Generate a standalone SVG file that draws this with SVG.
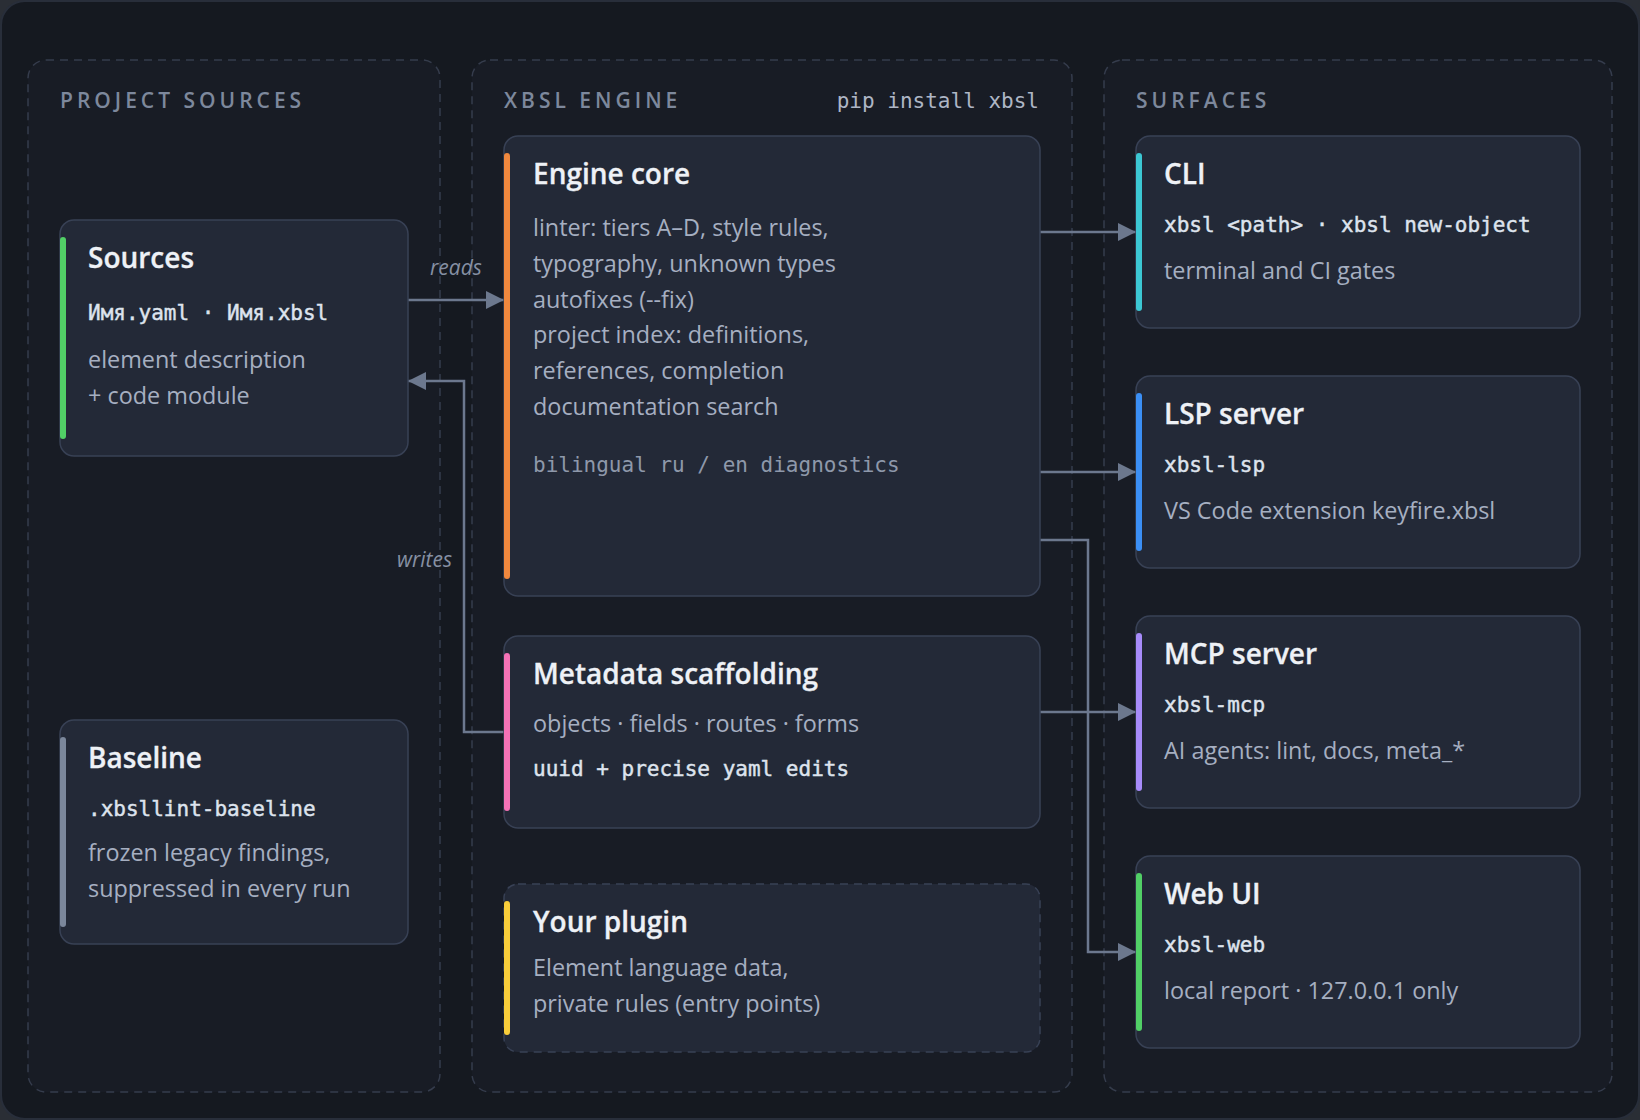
<svg xmlns="http://www.w3.org/2000/svg" width="1640" height="1120" viewBox="0 0 1640 1120">
<defs>
<style>
.frame{fill:#151920;stroke:#282e3a;stroke-width:2}
.grp{fill:#181c25;stroke:#353c4c;stroke-width:1.5;stroke-dasharray:8 6}
.node{fill:#232937;stroke:#384155;stroke-width:1.5}
.dnode{fill:#232937;stroke:#384155;stroke-width:1.5;stroke-dasharray:8 6}
.hdr{font-family:"Open Sans","Noto Sans",sans-serif;font-size:21px;font-weight:600;letter-spacing:4px;fill:#7d889c}
.pip{font-family:"DejaVu Sans Mono","Liberation Mono",monospace;font-size:21px;fill:#aeb6c5}
.title{font-family:"Open Sans","Noto Sans",sans-serif;font-size:28px;font-weight:600;fill:#eef1f6;stroke:#eef1f6;stroke-width:0.3}
.body{font-family:"Open Sans","Noto Sans",sans-serif;font-size:23.4px;fill:#a6afc1}
.mono{font-family:"DejaVu Sans Mono","Liberation Mono",monospace;font-size:21px;fill:#dde3ed;stroke:#dde3ed;stroke-width:0.45}
.mono2{font-family:"DejaVu Sans Mono","Liberation Mono",monospace;font-size:21px;fill:#8e98aa}
.edge{fill:none;stroke:#6c788e;stroke-width:2.5}
.elabel{font-family:"Open Sans","Noto Sans",sans-serif;font-style:italic;font-size:21px;fill:#8690a3}
</style>
<marker id="arr" markerUnits="userSpaceOnUse" markerWidth="18" markerHeight="18" refX="18" refY="9" orient="auto">
<path d="M0,0 L18,9 L0,18 z" fill="#6c788e"/>
</marker>
</defs>
<rect x="0" y="0" width="1640" height="1120" fill="#2a2e35"/>
<rect class="frame" x="1" y="1" width="1638" height="1118" rx="24"/>

<g id="group-project-sources">
<rect class="grp" x="28" y="60" width="412" height="1032" rx="18"/>
<text class="hdr" x="60" y="108">PROJECT SOURCES</text>
</g>
<g id="group-xbsl-engine">
<rect class="grp" x="472" y="60" width="600" height="1032" rx="18"/>
<text class="hdr" x="504" y="108">XBSL ENGINE</text>
<text class="pip" x="1039" y="108" text-anchor="end">pip install xbsl</text>
</g>
<g id="group-surfaces">
<rect class="grp" x="1104" y="60" width="508" height="1032" rx="18"/>
<text class="hdr" x="1136" y="108">SURFACES</text>
</g>

<g id="connectors">
<path class="edge" d="M408 300 H504" marker-end="url(#arr)"/>
<path class="edge" d="M504 732 H464 V381 H408" marker-end="url(#arr)"/>
<path class="edge" d="M1040 232 H1136" marker-end="url(#arr)"/>
<path class="edge" d="M1040 472 H1136" marker-end="url(#arr)"/>
<path class="edge" d="M1040 540 H1088 V952 H1136" marker-end="url(#arr)"/>
<path class="edge" d="M1040 712 H1136" marker-end="url(#arr)"/>
<text class="elabel" x="456" y="275" text-anchor="middle">reads</text>
<text class="elabel" x="452" y="567" text-anchor="end">writes</text>
</g>

<g id="node-sources">
<rect class="node" x="60" y="220" width="348" height="236" rx="14"/>
<rect x="60" y="237" width="6" height="202" rx="3" fill="#51cf66"/>
<text class="title" x="88" y="268">Sources</text>
<text class="mono" x="88" y="320">Имя.yaml · Имя.xbsl</text>
<text class="body" x="88" y="368">element description</text>
<text class="body" x="88" y="403.5">+ code module</text>
</g>

<g id="node-baseline">
<rect class="node" x="60" y="720" width="348" height="224" rx="14"/>
<rect x="60" y="737" width="6" height="190" rx="3" fill="#7b879b"/>
<text class="title" x="88" y="768">Baseline</text>
<text class="mono" x="88" y="816">.xbsllint-baseline</text>
<text class="body" x="88" y="860.5">frozen legacy findings,</text>
<text class="body" x="88" y="896.5">suppressed in every run</text>
</g>

<g id="node-engine-core">
<rect class="node" x="504" y="136" width="536" height="460" rx="14"/>
<rect x="504" y="153" width="6" height="426" rx="3" fill="#f0883e"/>
<text class="title" x="533" y="184">Engine core</text>
<text class="body" x="533" y="235.7">linter: tiers A–D, style rules,</text>
<text class="body" x="533" y="271.6">typography, unknown types</text>
<text class="body" x="533" y="307.5">autofixes (--fix)</text>
<text class="body" x="533" y="343.4">project index: definitions,</text>
<text class="body" x="533" y="379.3">references, completion</text>
<text class="body" x="533" y="415.2">documentation search</text>
<text class="mono2" x="533" y="471.5">bilingual ru / en diagnostics</text>
</g>

<g id="node-metadata-scaffolding">
<rect class="node" x="504" y="636" width="536" height="192" rx="14"/>
<rect x="504" y="653" width="6" height="158" rx="3" fill="#f472b6"/>
<text class="title" x="533" y="683.5">Metadata scaffolding</text>
<text class="body" x="533" y="731.7">objects · fields · routes · forms</text>
<text class="mono" x="533" y="775.7">uuid + precise yaml edits</text>
</g>

<g id="node-your-plugin">
<rect class="dnode" x="504" y="884" width="536" height="168" rx="14"/>
<rect x="504" y="901" width="6" height="134" rx="3" fill="#f8cd3a"/>
<text class="title" x="533" y="931.7">Your plugin</text>
<text class="body" x="533" y="976">Element language data,</text>
<text class="body" x="533" y="1011.7">private rules (entry points)</text>
</g>

<g id="node-cli">
<rect class="node" x="1136" y="136" width="444" height="192" rx="14"/>
<rect x="1136" y="153" width="6" height="158" rx="3" fill="#3cc7d3"/>
<text class="title" x="1164" y="183.5">CLI</text>
<text class="mono" x="1164" y="232">xbsl &lt;path&gt; · xbsl new-object</text>
<text class="body" x="1164" y="278.6">terminal and CI gates</text>
</g>

<g id="node-lsp-server">
<rect class="node" x="1136" y="376" width="444" height="192" rx="14"/>
<rect x="1136" y="393" width="6" height="158" rx="3" fill="#3b8ff5"/>
<text class="title" x="1164" y="423.5">LSP server</text>
<text class="mono" x="1164" y="472">xbsl-lsp</text>
<text class="body" x="1164" y="518.6">VS Code extension keyfire.xbsl</text>
</g>

<g id="node-mcp-server">
<rect class="node" x="1136" y="616" width="444" height="192" rx="14"/>
<rect x="1136" y="633" width="6" height="158" rx="3" fill="#a78bfa"/>
<text class="title" x="1164" y="663.7">MCP server</text>
<text class="mono" x="1164" y="712">xbsl-mcp</text>
<text class="body" x="1164" y="759">AI agents: lint, docs, meta_*</text>
</g>

<g id="node-web-ui">
<rect class="node" x="1136" y="856" width="444" height="192" rx="14"/>
<rect x="1136" y="873" width="6" height="158" rx="3" fill="#51cf66"/>
<text class="title" x="1164" y="903.7">Web UI</text>
<text class="mono" x="1164" y="952">xbsl-web</text>
<text class="body" x="1164" y="999.4">local report · 127.0.0.1 only</text>
</g>
</svg>
